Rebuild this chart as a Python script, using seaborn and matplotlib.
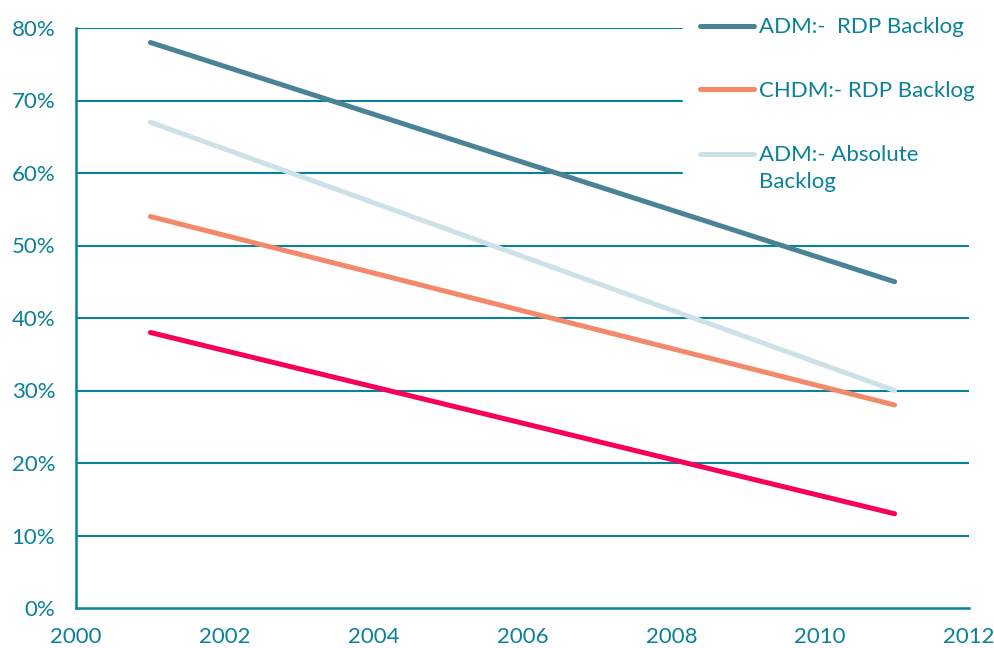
import matplotlib
matplotlib.use("Agg")
import matplotlib.pyplot as plt
from matplotlib.legend_handler import HandlerLine2D
import seaborn as sns
import numpy as np
import pandas as pd

years = [2001, 2011]
adm_rdp = [78, 45]
chdm_rdp = [54, 28]
adm_absolute = [67, 30]
other_series = [38, 13]

series_names = ["ADM:-  RDP Backlog", "CHDM:- RDP Backlog", "ADM:- Absolute\nBacklog", "_other"]
series_values = [adm_rdp, chdm_rdp, adm_absolute, other_series]
colors = ["#4a8396", "#f3896a", "#cde2e8", "#f7005a"]

x_ticks = [2000, 2002, 2004, 2006, 2008, 2010, 2012]
y_ticks = [0, 10, 20, 30, 40, 50, 60, 70, 80]

TEAL = "#0a8199"
FS = 16
LINE_SPACING = 1.44

rows = []
for name, vals in zip(series_names, series_values):
    for yr, v in zip(years, vals):
        rows.append({"year": yr, "value": v, "series": name})
df = pd.DataFrame(rows)

sns.set_theme(style="white")
plt.rcParams["font.family"] = ["Lato", "DejaVu Sans"]

fig = plt.figure(figsize=(9.95, 6.48), dpi=100)
ax = fig.add_axes([76 / 995, 1 - 608 / 648, (969 - 76) / 995, (608 - 28) / 648])

sns.lineplot(data=df, x="year", y="value", hue="series", hue_order=series_names,
             palette=colors, linewidth=3.6, solid_capstyle="round", ax=ax, legend=False)

ax.set_xlim(2000, 2012)
ax.set_ylim(0, 80)
ax.set_xticks(x_ticks)
ax.set_yticks(y_ticks)
ax.set_yticklabels([f"{v}%" for v in y_ticks])
ax.set_xlabel("")
ax.set_ylabel("")

for v in y_ticks[1:]:
    ax.axhline(v, color=TEAL, linewidth=1.5, zorder=0.5)

for side in ["top", "right"]:
    ax.spines[side].set_visible(False)
for side in ["left", "bottom"]:
    ax.spines[side].set_color(TEAL)
    ax.spines[side].set_linewidth(1.8)

ax.tick_params(axis="both", colors=TEAL, labelsize=FS, length=7, width=1.5,
               direction="out")
ax.tick_params(axis="x", pad=7)
ax.tick_params(axis="y", pad=8)
for lab in ax.get_xticklabels() + ax.get_yticklabels():
    lab.set_color(TEAL)


class TopLineHandler(HandlerLine2D):
    """Line handle aligned with the first line of a two-line label."""

    def __init__(self, shift, **kw):
        super().__init__(**kw)
        self.shift = shift

    def create_artists(self, legend, orig_handle, xdescent, ydescent,
                       width, height, fontsize, trans):
        artists = super().create_artists(legend, orig_handle, xdescent, ydescent,
                                         width, height, fontsize, trans)
        for a in artists:
            a.set_ydata(np.asarray(a.get_ydata(), dtype=float) + self.shift)
        return artists


handles = ax.get_lines()[:3]
leg = fig.legend(handles=handles, labels=series_names[:3], loc="upper left",
                 bbox_to_anchor=(683 / 995, 1.0), frameon=True,
                 fontsize=FS, handlelength=2.4, handletextpad=0.25,
                 labelspacing=1.97, borderpad=0.78, borderaxespad=0,
                 handler_map={handles[2]: TopLineHandler(shift=10.8)})
leg.get_frame().set_facecolor("white")
leg.get_frame().set_edgecolor("white")
leg.get_frame().set_alpha(1)
leg.get_frame().set_boxstyle("square", pad=0)
for t in leg.get_texts():
    t.set_color(TEAL)
    t.set_linespacing(LINE_SPACING)
for lh in leg.get_lines():
    lh.set_linewidth(3.6)
    lh.set_solid_capstyle("round")

fig.savefig("out.png", dpi=100)
